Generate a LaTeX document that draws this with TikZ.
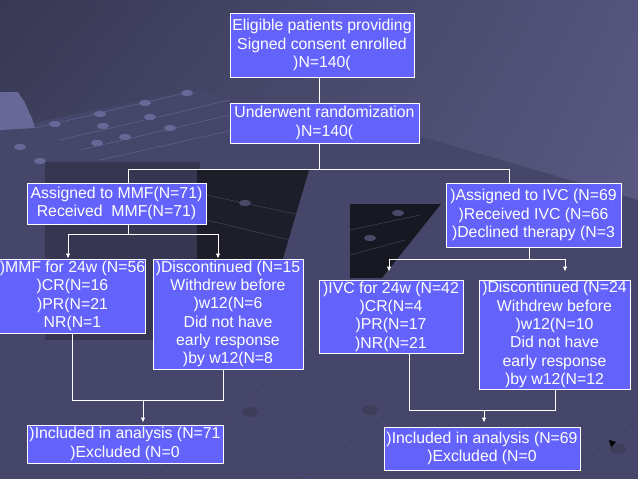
\documentclass[tikz,border=0pt]{standalone}
\usepackage{fontspec}
\setmainfont{Liberation Sans}
\usetikzlibrary{arrows.meta,shadings}
\definecolor{boxblue}{RGB}{99,99,252}
\definecolor{bgtl}{RGB}{56,56,84}
\definecolor{bgtr}{RGB}{84,84,124}
\definecolor{bgbl}{RGB}{74,74,110}
\definecolor{bgbr}{RGB}{94,94,136}
\definecolor{gridlight}{RGB}{104,104,152}
\definecolor{gridband}{RGB}{70,70,106}
\definecolor{darkpanel}{RGB}{54,54,80}
\definecolor{blackpanel}{RGB}{30,30,42}
\tikzset{
  flowbox/.style={draw=white, line width=0.9pt, fill=boxblue, text=white, align=center,
    inner sep=0pt, font=\fontsize{15.8}{18.3}\selectfont},
  link/.style={draw=white, line width=0.9pt},
  >={Latex[length=5pt,width=4.5pt]}
}

\begin{document}
\begin{tikzpicture}[x=1pt,y=-1pt]
\useasboundingbox (0,0) rectangle (638,479);
\shade[upper left=bgtl, upper right=bgtr, lower left=bgbl, lower right=bgbr] (0,0) rectangle (638,479);

\fill[gridband] (0,130) -- (190,90) -- (330,110) -- (638,200) -- (638,479) -- (0,479) -- cycle;
\fill[gridlight] (0,92) -- (18,92) -- (21,97) -- (24,101) -- (27,107) -- (29,112) -- (32,118) -- (35,128) -- (0,130) -- cycle;
\fill[darkpanel] (45,162) rectangle (200,340);
\fill[blackpanel] (197,170) -- (309,170) -- (282,262) -- (197,262) -- cycle;
\fill[blackpanel!80!black] (350,204) -- (441,204) -- (382,278) -- (350,278) -- cycle;
\draw[gridlight, line width=0.4pt] (35,128) -- (190,92);
\draw[gridlight, line width=0.4pt] (60,140) -- (230,100);
\draw[gridlight, line width=0.4pt] (80,150) -- (260,108);
\draw[gridlight, line width=0.4pt] (100,160) -- (300,115);
\draw[gridlight!70!black, line width=0.4pt] (206,195) -- (300,215);
\draw[gridlight!70!black, line width=0.4pt] (206,220) -- (290,240);
\draw[gridlight!70!black, line width=0.4pt] (350,230) -- (420,215);
\draw[gridlight!70!black, line width=0.4pt] (350,255) -- (405,240);
\draw[gridlight!60!black, line width=0.4pt] (150,479) -- (330,330);
\draw[gridlight!60!black, line width=0.4pt] (300,479) -- (420,390);
\draw[gridlight!60!black, line width=0.4pt] (560,479) -- (638,420);
\fill[gridlight] (55,124) ellipse (6 and 3);
\fill[gridlight] (100,114) ellipse (6 and 3);
\fill[gridlight] (145,103) ellipse (6 and 3);
\fill[gridlight] (187,93) ellipse (6 and 3);
\fill[gridlight] (103,126) ellipse (6 and 3);
\fill[gridlight] (150,117) ellipse (6 and 3);
\fill[gridlight] (125,137) ellipse (6 and 3);
\fill[gridlight] (170,128) ellipse (6 and 3);
\fill[gridlight] (20,147) ellipse (6 and 3);
\fill[gridlight] (40,161) ellipse (6 and 3);
\fill[gridlight] (97,143) ellipse (6 and 3);
\fill[gridlight!70!black] (245,203) ellipse (6 and 3);
\fill[gridlight!70!black] (398,213) ellipse (6 and 3);
\fill[gridlight!70!black] (370,238) ellipse (6 and 3);
\fill[gridlight!60!black] (250,412) ellipse (8 and 5);
\fill[gridlight!60!black] (370,410) ellipse (8 and 5);
\fill[gridlight!60!black] (618,449) ellipse (8 and 5);
\fill[black] (609,440) -- (616,442) -- (611,447) -- cycle;

\node[flowbox, minimum width=184pt, minimum height=64pt] (elig) at (322,45)
  {Eligible patients providing\\Signed consent enrolled\\)N=140(};
\node[flowbox, minimum width=189pt, minimum height=40pt] (rand) at (324.5,123)
  {Underwent randomization\\)N=140(};
\node[flowbox, minimum width=179pt, minimum height=41pt] (mmf) at (116.5,203.5)
  {Assigned to MMF(N=71)\\Received\ \ MMF(N=71)};
\node[flowbox, minimum width=175pt, minimum height=64pt] (ivc) at (533.5,215)
  {)Assigned to IVC (N=69\\)Received IVC (N=66\\)Declined therapy (N=3};
\node[flowbox, minimum width=141pt, minimum height=74pt] (mmfweeks) at (72.5,296)
  {)MMF for 24w (N=56\\)CR(N=16\\)PR(N=21\\NR(N=1};
\node[flowbox, minimum width=150pt, minimum height=110pt] (mmfstop) at (228,314)
  {)Discontinued (N=15\\Withdrew before\\)w12(N=6\\Did not have\\early response\\)by w12(N=8};
\node[flowbox, minimum width=144pt, minimum height=73pt] (ivcweeks) at (391,316.5)
  {)IVC for 24w (N=42\\)CR(N=4\\)PR(N=17\\)NR(N=21};
\node[flowbox, minimum width=151pt, minimum height=109pt] (ivcstop) at (554.5,334.5)
  {)Discontinued (N=24\\Withdrew before\\)w12(N=10\\Did not have\\early response\\)by w12(N=12};
\node[flowbox, minimum width=196pt, minimum height=38pt] (mmfdone) at (125,444)
  {)Included in analysis (N=71\\)Excluded (N=0};
\node[flowbox, minimum width=196pt, minimum height=43pt] (ivcdone) at (482,448.5)
  {)Included in analysis (N=69\\)Excluded (N=0};

\coordinate (jm) at (319,169);
\coordinate (jl) at (128,169);
\coordinate (jr) at (509,169);
\draw[link] (elig.south -| jm) -- (rand.north -| jm);
\draw[link] (rand.south -| jm) -- (jm);
\draw[link] (jl) -- (jr);
\draw[link] (jl) -- (jl |- mmf.north);
\draw[link] (jr) -- (jr |- ivc.north);

\coordinate (sl) at (68,234);
\coordinate (sr) at (218,234);
\draw[link] (mmf.south -| jl) -- (jl |- sl);
\draw[link] (sl) -- (sr);
\draw[link,->] (sl) -- (sl |- mmfweeks.north);
\draw[link,->] (sr) -- (sr |- mmfstop.north);

\coordinate (tm) at (529,259);
\coordinate (tl) at (389,259);
\coordinate (tr) at (565,259);
\draw[link] (ivc.south -| tm) -- (tm);
\draw[link] (tl) -- (tr);
\draw[link,->,shorten >=8pt] (tl) -- (tl |- ivcweeks.north);
\draw[link,->,shorten >=8pt] (tr) -- (tr |- ivcstop.north);

\coordinate (ul) at (72,400);
\coordinate (ur) at (223,400);
\coordinate (um) at (143,400);
\draw[link] (mmfweeks.south -| ul) -- (ul) -- (ur) -- (mmfstop.south -| ur);
\draw[link,->,shorten >=2pt] (um) -- (um |- mmfdone.north);

\coordinate (vl) at (409,410);
\coordinate (vr) at (555,410);
\coordinate (vm) at (484,410);
\draw[link] (ivcweeks.south -| vl) -- (vl) -- (vr) -- (ivcstop.south -| vr);
\draw[link,->,shorten >=4pt] (vm) -- (vm |- ivcdone.north);
\end{tikzpicture}
\end{document}
